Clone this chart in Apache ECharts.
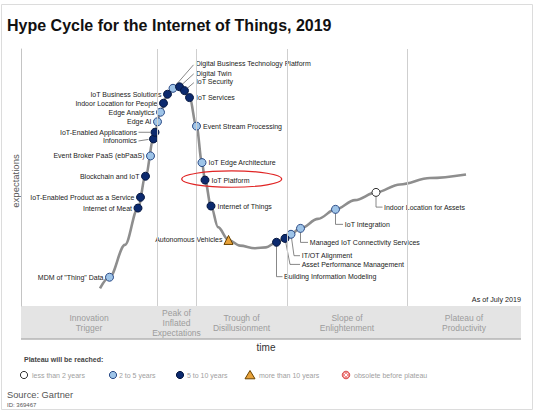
<!DOCTYPE html>
<html><head><meta charset="utf-8">
<script src="https://cdn.jsdelivr.net/npm/echarts/dist/echarts.min.js"></script>
<style>html,body{margin:0;padding:0;background:#fff}#c{width:534px;height:412px}</style>
</head><body><div id="c"></div>
<script>
// ---------- data (time / expectations units, 0-100) ----------
const techNames = ['MDM of "Thing" Data','Internet of Meat','IoT-Enabled Product as a Service','Blockchain and IoT','Event Broker PaaS (ebPaaS)','Infonomics','IoT-Enabled Applications','Edge AI','Edge Analytics','Indoor Location for People','IoT Business Solutions','Digital Business Technology Platform','Digital Twin','IoT Security','IoT Services','Event Stream Processing','IoT Edge Architecture','IoT Platform','Internet of Things','Autonomous Vehicles','Building Information Modeling','Asset Performance Management','IT/OT Alignment','Managed IoT Connectivity Services','IoT Integration','Indoor Location for Assets'];
const techX = [17.7,23.4,23.9,24.9,25.9,26.5,26.8,27.3,27.9,28.5,29.3,30.4,31.7,32.7,33.7,35.1,36.2,36.8,38.0,41.5,51.1,52.8,54.0,55.9,62.9,71.0];
const techY = [11.2,38.1,42.3,50.5,58.4,65.0,67.6,71.7,75.4,78.9,82.4,84.7,85.3,83.8,81.1,70.0,55.8,49.0,38.9,25.7,24.8,26.3,27.9,30.2,37.6,44.2];
const techPlateau = ['2-5','5-10','5-10','5-10','2-5','5-10','5-10','2-5','2-5','5-10','5-10','2-5','5-10','5-10','5-10','2-5','2-5','5-10','5-10','>10','5-10','5-10','2-5','2-5','2-5','<2'];

const curveX = [15.8,17.7,20.8,23.4,24.9,26.5,27.9,29.3,30.4,31.3,32.2,33.7,35.1,36.2,36.8,38.0,39.4,41.5,43.8,46.8,49.0,51.1,53.4,55.9,59.4,62.9,66.8,71.0,75.8,81.8,89.0];
const curveY = [6.9,11.2,23.8,38.1,50.5,65.0,75.4,82.4,84.7,85.5,84.6,81.1,70.0,55.8,49.0,38.9,30.7,25.7,23.5,22.5,22.8,24.8,27.1,30.2,33.9,37.6,41.2,44.2,47.3,49.8,51.2];

const phaseNames = ['Innovation\nTrigger','Peak of\nInflated\nExpectations','Trough of\nDisillusionment','Slope of\nEnlightenment','Plateau of\nProductivity'];
const phaseBounds = [0,27.2,35.0,53.2,77.2,100];

const plateauKeys = ['<2','2-5','5-10','>10','obsolete'];
const plateauLabels = ['less than 2 years','2 to 5 years','5 to 10 years','more than 10 years','obsolete before plateau'];

// ---------- styles / layout ----------
const FONT = '"Liberation Sans", Arial, sans-serif';
const plateauStyle = {
  '<2':   {symbol:'circle', size:8, color:'#ffffff', border:'#333333'},
  '2-5':  {symbol:'circle', size:8, color:'#9ec4e8', border:'#2a4a86'},
  '5-10': {symbol:'circle', size:8, color:'#0c2a6e', border:'#06173f'},
  '>10':  {symbol:'triangle', size:9, color:'#e8a23a', border:'#6a4300'}
};
const rightLabels = ['IoT Services','Event Stream Processing','IoT Edge Architecture','IoT Platform','Internet of Things'];
const leaderLabels = {
  'Digital Business Technology Platform': {tx:22.7, ty:-25, align:'left', leader:[[0,0],[20.5,-23.5]]},
  'Digital Twin': {tx:16.4, ty:-13.7, align:'left', leader:[[0,0],[14.2,-12.9]]},
  'IoT Security': {tx:11.4, ty:-8.7, align:'left', leader:[[0,0],[9.4,-8]]},
  'Building Information Modeling': {tx:7.6, ty:34.4, align:'left', leader:[[0,0],[0,34.4],[6,34.4]]},
  'Asset Performance Management': {tx:16.7, ty:26, align:'left', leader:[[0,0],[5,26],[15,26]]},
  'IT/OT Alignment': {tx:10.7, ty:21.4, align:'left', leader:[[0,0],[3,21.4],[9,21.4]]},
  'Managed IoT Connectivity Services': {tx:9.3, ty:14, align:'left', leader:[[0,0],[0,14],[7.5,14]]},
  'IoT Integration': {tx:9.3, ty:15, align:'left', leader:[[0,0],[0,15],[7.5,15]]},
  'Indoor Location for Assets': {tx:8, ty:14.7, align:'left', leader:[[0,0],[0,14.7],[6.5,14.7]]},
  'IoT-Enabled Applications': {tx:-18, ty:0, align:'right', leader:[[-16.5,0],[-5,0]]},
  'Infonomics': {tx:-16.7, ty:2, align:'right', leader:[[-15,2],[-5,0.5]]}
};

const chart = echarts.init(document.getElementById('c'), null, {renderer:'svg'});

const series = [{
  type:'line', z:2, silent:true, showSymbol:false, smooth:0.35, smoothMonotone:'x',
  data: curveX.map((x,i)=>[x,curveY[i]]),
  lineStyle:{color:'#8e8e8e', width:2.6},
  markLine:{silent:true, symbol:'none', label:{show:false},
    lineStyle:{color:'#cfcfcf', type:'solid', width:1},
    data: phaseBounds.slice(1,5).map(v=>({xAxis:v}))}
}];
['<2','2-5','5-10','>10'].forEach(k=>{
  const st = plateauStyle[k];
  series.push({
    type:'scatter', z:4, symbol:st.symbol, symbolSize:st.size,
    itemStyle:{color:st.color, borderColor:st.border, borderWidth:1, opacity:1},
    data: techNames.map((n,i)=>({name:n, value:[techX[i],techY[i]]})).filter((d,i)=>techPlateau[i]===k)
  });
});

chart.setOption({
  animation:false,
  title:{text:'Hype Cycle for the Internet of Things, 2019', left:2, top:12,
    textStyle:{fontSize:16, fontWeight:'bold', color:'#111', fontFamily:FONT}},
  grid:{left:21, right:13, top:49, bottom:106},
  xAxis:{type:'value', min:0, max:100, show:false},
  yAxis:{type:'value', min:0, max:100, axisLine:{show:true, lineStyle:{color:'#c4c4c4', width:1}},
    axisTick:{show:false}, axisLabel:{show:false}, splitLine:{show:false}},
  series: series
});

// ---------- annotations via scale conversion ----------
const g = [];
const px = (x,y)=>chart.convertToPixel({gridIndex:0},[x,y]);
const bandTop = px(0,0)[1], bandLeft = px(0,0)[0], bandRight = px(100,0)[0];
g.push({type:'rect', silent:true, shape:{x:1.5, y:4.5, width:531, height:405}, style:{fill:'none', stroke:'#dcdcdc', lineWidth:1}});
g.push({type:'rect', silent:true, shape:{x:bandLeft, y:bandTop, width:bandRight-bandLeft, height:33}, style:{fill:'#e4e4e4'}});
g.push({type:'line', silent:true, shape:{x1:bandLeft, y1:bandTop+33, x2:bandRight, y2:bandTop+33}, style:{stroke:'#b4b4b4', lineWidth:1.5}});
phaseNames.forEach((n,i)=>{
  const cx = (px(phaseBounds[i],0)[0] + px(phaseBounds[i+1],0)[0])/2;
  g.push({type:'text', silent:true, x:cx, y:bandTop+16.5,
    style:{text:n, fill:'#9c9c9c', font:'8.5px '+FONT, align:'center', verticalAlign:'middle', lineHeight:10}});
});
g.push({type:'text', silent:true, x:bandRight, y:px(0,0)[1]-7,
  style:{text:'As of July 2019', fill:'#222', font:'7.2px '+FONT, align:'right', verticalAlign:'middle'}});
g.push({type:'text', silent:true, x:(bandLeft+bandRight)/2-5, y:347,
  style:{text:'time', fill:'#333', font:'10px '+FONT, align:'center', verticalAlign:'middle'}});
g.push({type:'text', silent:true, x:15, y:181, rotation:Math.PI/2,
  style:{text:'expectations', fill:'#555', font:'9.5px '+FONT, align:'center', verticalAlign:'middle'}});

techNames.forEach((n,i)=>{
  const p = px(techX[i], techY[i]);
  const L = leaderLabels[n];
  if (L) {
    g.push({type:'polyline', silent:true, shape:{points:L.leader.map(d=>[p[0]+d[0], p[1]+d[1]])},
      style:{stroke:'#6a6a6a', lineWidth:0.8, fill:'none'}});
    g.push({type:'text', silent:true, x:p[0]+L.tx, y:p[1]+L.ty,
      style:{text:n, fill:'#222', font:'7px '+FONT, align:L.align, verticalAlign:'middle'}});
  } else {
    const right = rightLabels.indexOf(n) >= 0;
    g.push({type:'text', silent:true, x:p[0]+(right?6.5:-6), y:p[1],
      style:{text:n, fill:'#222', font:'7px '+FONT, align:right?'left':'right', verticalAlign:'middle'}});
  }
});

// red highlight around IoT Platform
const ip = techNames.indexOf('IoT Platform');
const ipp = px(techX[ip], techY[ip]);
g.push({type:'ellipse', silent:true, z:10, shape:{cx:ipp[0]+26.7, cy:ipp[1]-1, rx:50, ry:8.2},
  style:{fill:'none', stroke:'#e02424', lineWidth:1.2}});

// legend
g.push({type:'text', silent:true, x:24, y:359,
  style:{text:'Plateau will be reached:', fill:'#444', font:'bold 7px '+FONT, align:'left', verticalAlign:'middle'}});
const legIcon = [24,113,180,250,346], legText = [32,119,187,259,354], ly = 375;
plateauKeys.forEach((k,i)=>{
  const cx = legIcon[i];
  if (k==='>10') {
    g.push({type:'polygon', silent:true, shape:{points:[[cx,ly-4.5],[cx+5,ly+3.8],[cx-5,ly+3.8]]},
      style:{fill:'#e8a23a', stroke:'#6a4300', lineWidth:1}});
  } else if (k==='obsolete') {
    g.push({type:'circle', silent:true, shape:{cx:cx, cy:ly, r:3.8}, style:{fill:'#f08c8c', stroke:'#d95050', lineWidth:1}});
    g.push({type:'line', silent:true, shape:{x1:cx-1.8,y1:ly-1.8,x2:cx+1.8,y2:ly+1.8}, style:{stroke:'#fff', lineWidth:1}});
    g.push({type:'line', silent:true, shape:{x1:cx-1.8,y1:ly+1.8,x2:cx+1.8,y2:ly-1.8}, style:{stroke:'#fff', lineWidth:1}});
  } else {
    const st = plateauStyle[k];
    g.push({type:'circle', silent:true, shape:{cx:cx, cy:ly, r:3.6}, style:{fill:st.color, stroke:st.border, lineWidth:1}});
  }
  g.push({type:'text', silent:true, x:legText[i], y:ly,
    style:{text:plateauLabels[i], fill:'#a0a0a0', font:'7px '+FONT, align:'left', verticalAlign:'middle'}});
});
g.push({type:'text', silent:true, x:7, y:395,
  style:{text:'Source: Gartner', fill:'#555', font:'9.3px '+FONT, align:'left', verticalAlign:'middle'}});
g.push({type:'text', silent:true, x:7, y:405,
  style:{text:'ID: 369467', fill:'#555', font:'6px '+FONT, align:'left', verticalAlign:'middle'}});

chart.setOption({graphic:g});
</script>
</body></html>
